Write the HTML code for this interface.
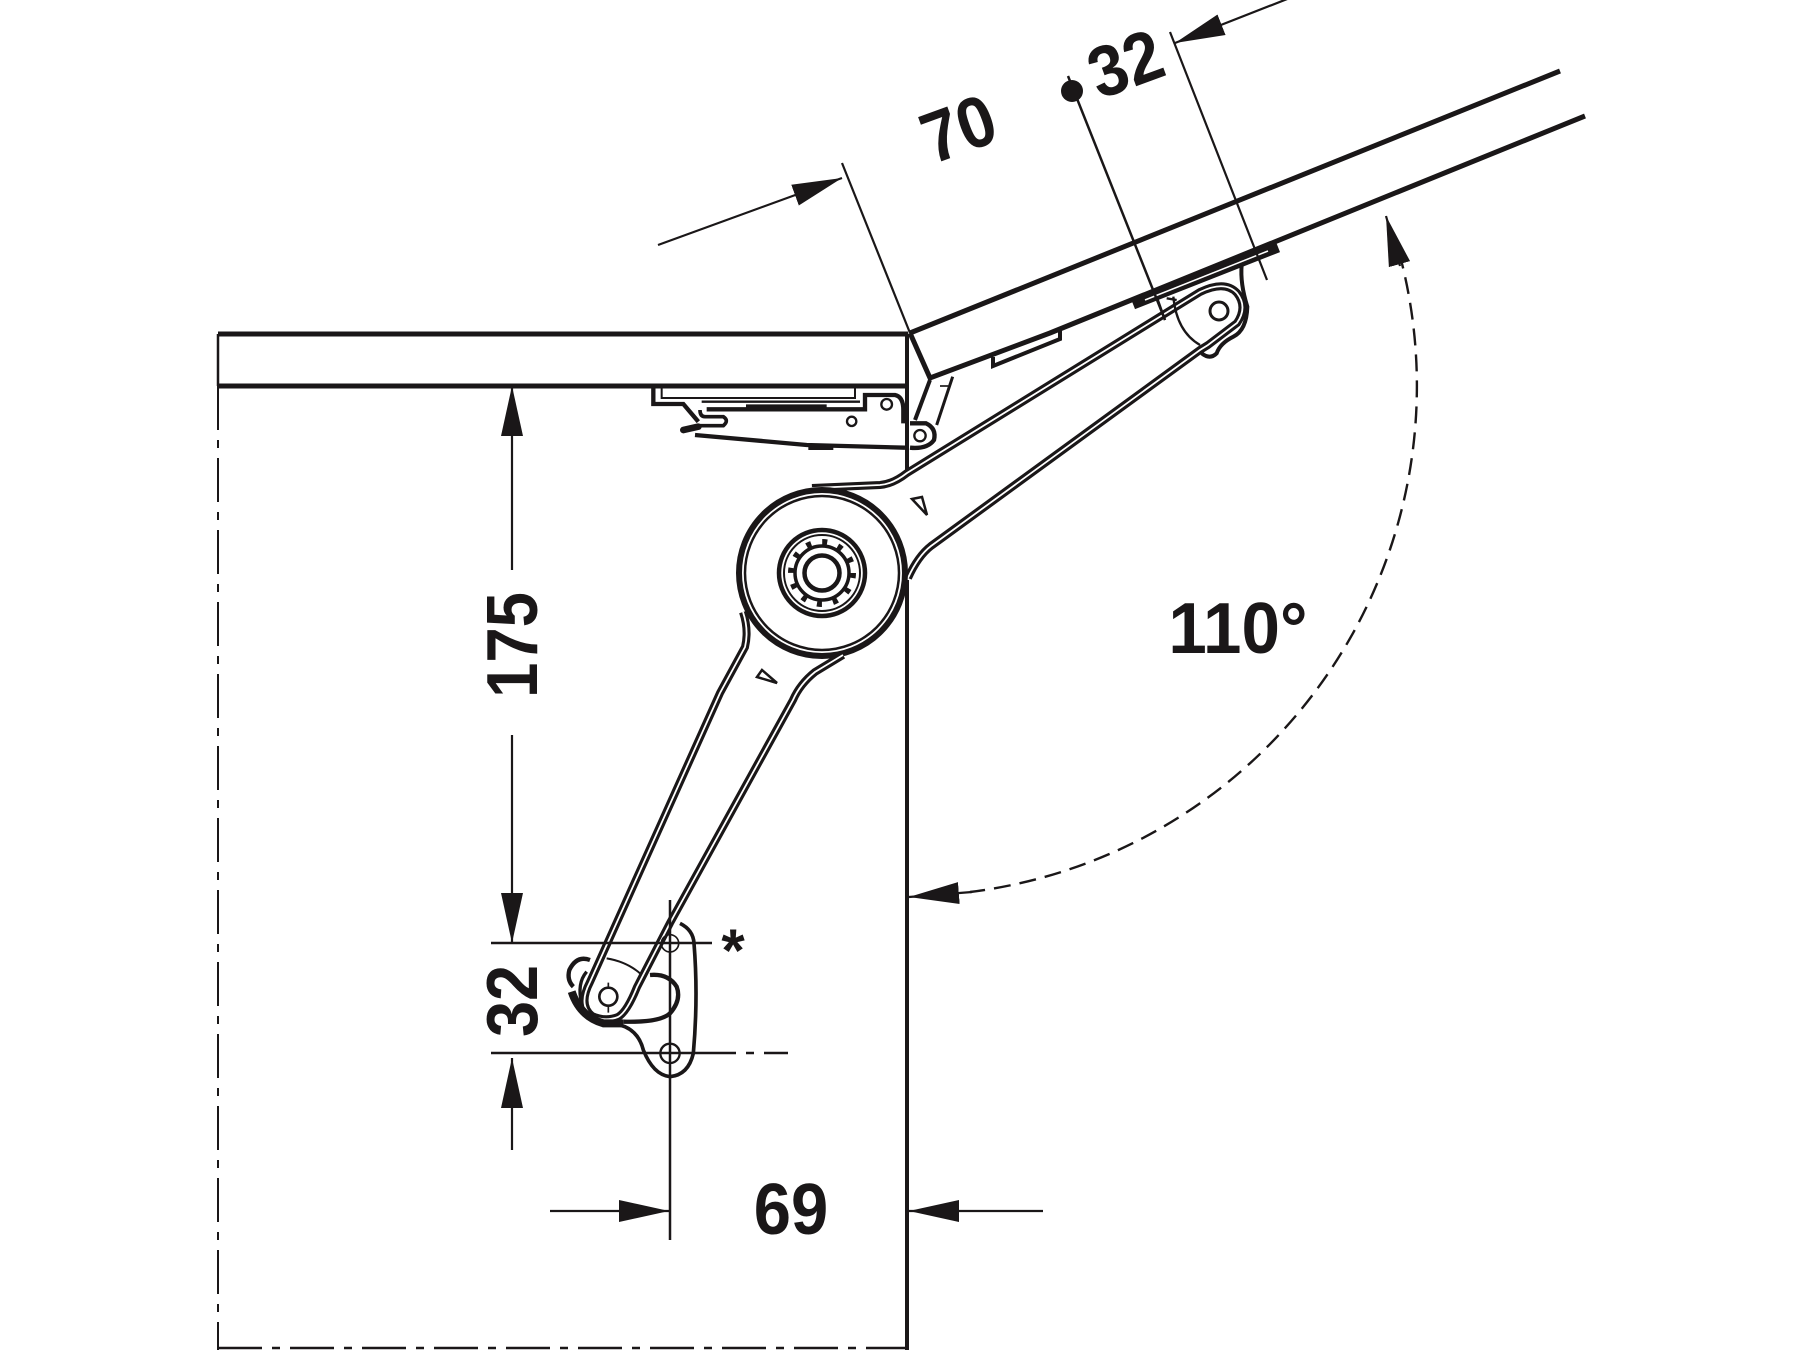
<!DOCTYPE html>
<html><head><meta charset="utf-8"><style>
html,body{margin:0;padding:0;background:#fff}svg{display:block}
text{font-family:"Liberation Sans",sans-serif;font-weight:bold;font-size:72px;fill:#1a1718;text-anchor:middle}
</style></head><body>
<svg width="1800" height="1350" viewBox="0 0 1800 1350" xmlns="http://www.w3.org/2000/svg">
<defs>
<marker id="a" markerUnits="userSpaceOnUse" markerWidth="50" markerHeight="24" refX="50" refY="12" orient="auto"><path d="M50,12 L0,1 V23 Z" fill="#1a1718"/></marker>
</defs>
<rect width="1800" height="1350" fill="#fff"/>
<g fill="none" stroke="#1a1718" stroke-linecap="butt">
<!-- cabinet / panel -->
<path d="M218,334 H908" stroke-width="5"/>
<path d="M218,386 H908" stroke-width="5"/>
<path d="M218,334 V386" stroke-width="2.5"/>
<path d="M907,334 V470 M907,580 V1350" stroke-width="4"/>
<path d="M218,386 V1350" stroke-width="2" stroke-dasharray="44,10,8,10"/>
<path d="M218,1348 H908" stroke-width="2.5" stroke-dasharray="44,10,8,10"/>
<!-- lid -->
<path d="M910,333 L1560,71" stroke-width="5"/>
<path d="M910,333 L930,378 L1050,333 L1585,116" stroke-width="5"/>
<!-- mounting plates -->
<path d="M1133,304 L1278,247" stroke-width="11"/>
<path d="M1145,300 L1268,251" stroke="#fff" stroke-width="1.5"/>
<path d="M993,357 V366 L1060,339 V330" stroke-width="4"/>
<!-- hinge mechanism traced at 3x -->
<g transform="translate(620,260) scale(.33333)">
<path d="M100,385 V432 H190 L235,485" stroke-width="13"/>
<path d="M125,385 V414 H705 V385" stroke-width="6"/>
<path d="M245,425 H720" stroke-width="7"/>
<path d="M260,448 H735 V405 H825 Q850,410 850,450 V490" stroke-width="13"/>
<path d="M378,438 H620" stroke-width="10"/>
<path d="M240,450 Q240,470 255,470 H310 Q328,482 310,497 H240" stroke-width="11"/>
<path d="M190,510 L235,500" stroke-width="20" stroke-linecap="round"/>
<path d="M225,525 L560,555 L855,563" stroke-width="13"/>
<path d="M565,565 H640" stroke-width="10"/>
<circle cx="800" cy="433" r="16" stroke-width="7"/>
<circle cx="695" cy="484" r="14" stroke-width="7"/>
<circle cx="900" cy="527" r="17" stroke-width="7"/>
<path d="M870,490 H918 Q950,505 942,540 Q922,568 870,563" stroke-width="13"/>
<path d="M885,480 L930,360" stroke-width="12"/>
<path d="M950,495 L998,350" stroke-width="9"/>
<path d="M960,378 H985" stroke-width="5"/>
</g>
<!-- upper arm -->
<path d="M812,488 L880,485 Q893,484 907,473 L1200,292 Q1225,280 1237,293 Q1248,307 1237,323 L1208,345 L1200,350 L931,546 Q918,556 908,578" stroke-width="8"/>
<path d="M812,488 L880,485 Q893,484 907,473 L1200,292 Q1225,280 1237,293 Q1248,307 1237,323 L1208,345 L1200,350 L931,546 Q918,556 908,578" stroke="#fff" stroke-width="1.8"/>
<circle cx="1219" cy="311" r="9" stroke-width="3"/>
<g transform="translate(1000,200) scale(.33333)">
<path d="M725,195 Q720,250 742,320 Q740,390 700,410 Q660,430 650,460 Q630,480 605,460" stroke-width="12"/>
<path d="M520,290 Q530,395 600,435" stroke-width="7"/>
<path d="M470,290 L495,360 M500,295 L530,300" stroke-width="7"/>
</g>
<!-- hub -->
<circle cx="822" cy="573" r="83" stroke-width="6"/>
<circle cx="822" cy="573" r="77" stroke-width="2.5"/>
<circle cx="822" cy="573" r="43" stroke-width="4.5"/>
<circle cx="822" cy="573" r="38" stroke-width="2"/>
<circle cx="822" cy="573" r="27" stroke-width="3.5"/>
<circle cx="822" cy="573" r="31" stroke-width="6" stroke-dasharray="5,11.23"/>
<circle cx="822" cy="573" r="17.5" stroke-width="4.5"/>
<path d="M912,499 L922,497 L927,515 Z" stroke-width="2.5"/>
<path d="M757,677 L762,670 L777,683 Z" stroke-width="2.5"/>
<!-- lower arm -->
<path d="M743,612 Q749,630 745,647 L720,693 L590,982 Q578,1005 592,1016 Q605,1022 618,1017 Q627,1012 637,987 L670,923 L793,700 Q800,684 815,672 L843,655" stroke-width="8"/>
<path d="M743,612 Q749,630 745,647 L720,693 L590,982 Q578,1005 592,1016 Q605,1022 618,1017 Q627,1012 637,987 L670,923 L793,700 Q800,684 815,672 L843,655" stroke="#fff" stroke-width="1.8"/>
<!-- bracket traced at 3x -->
<g transform="translate(540,880) scale(.33333)">
<path d="M420,130 Q460,150 462,190 Q475,350 460,520 Q445,585 390,590 Q340,585 310,510 Q295,450 240,435" stroke-width="11"/>
<path d="M330,285 Q385,280 410,320 Q425,360 390,400 Q360,428 250,425" stroke-width="13"/>
<path d="M150,240 Q110,225 88,270 Q80,300 100,320" stroke-width="13"/>
<path d="M95,335 Q120,410 190,430 H250" stroke-width="24"/>
<path d="M140,275 Q110,310 125,370" stroke-width="10"/>
<path d="M200,235 Q260,245 300,280" stroke-width="6"/>
<circle cx="390" cy="190" r="26" stroke-width="5"/>
<circle cx="390" cy="520" r="29" stroke-width="7"/>
<circle cx="205" cy="350" r="27" stroke-width="8"/>
<path d="M205,308 V325 M205,375 V398" stroke-width="5"/>
</g>
<!-- dimension lines -->
<path d="M491,943 H712 M491,1053 H712" stroke-width="2.5"/>
<path d="M712,1053 H795" stroke-width="2.5" stroke-dasharray="24,10,8,10"/>
<path d="M670,900 V1240" stroke-width="2.5"/>
<path d="M512,570 V386" stroke-width="2.2" marker-end="url(#a)"/>
<path d="M512,735 V943" stroke-width="2.2" marker-end="url(#a)"/>
<path d="M512,1150 V1058" stroke-width="2.2" marker-end="url(#a)"/>
<path d="M550,1211 H669" stroke-width="2.2" marker-end="url(#a)"/>
<path d="M1043,1211 H909" stroke-width="2.2" marker-end="url(#a)"/>
<path d="M842,163 L910,333" stroke-width="2.2"/>
<path d="M658,245 L842,178" stroke-width="2.2" marker-end="url(#a)"/>
<path d="M1068,76 L1165,320" stroke-width="2.5"/>
<path d="M1170,32 L1267,280" stroke-width="2.2"/>
<path d="M1300,-6 L1175,43" stroke-width="2.2" marker-end="url(#a)"/>
<circle cx="1072" cy="91" r="11" fill="#1a1718" stroke="none"/>
<!-- angle arc -->
<path d="M1399,252 A510,510 0 0 1 970,892" stroke-width="2.4" stroke-dasharray="17,9"/>
<path d="M972,892 L909,897" stroke-width="2.2" marker-end="url(#a)"/>
<path d="M1400,266 L1386,216" stroke-width="2.2" marker-end="url(#a)"/>
</g>
<text transform="translate(537,645) rotate(-90) scale(.88,1)">175</text>
<text transform="translate(537,1001) rotate(-90) scale(.9,1)">32</text>
<text transform="translate(791,1234) scale(.93,1)">69</text>
<text transform="translate(967,152) rotate(-20) scale(.92,1)">70</text>
<text transform="translate(1134,87) rotate(-20) scale(.92,1)">32</text>
<text transform="translate(1238,653) scale(.96,1)">110°</text>
<text x="733" y="971" style="font-size:60px">*</text>
</svg>
</body></html>
